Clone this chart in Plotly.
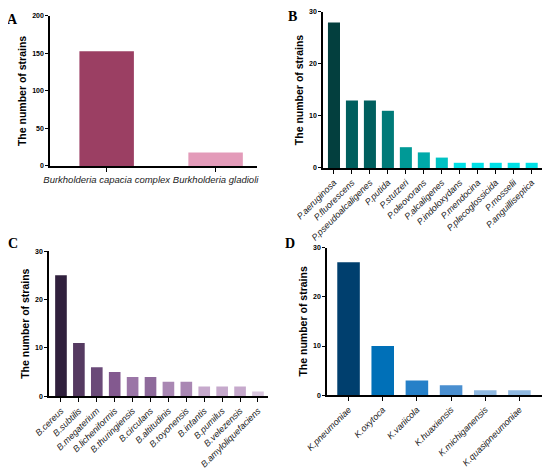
import plotly.graph_objects as go
from plotly.subplots import make_subplots

# panel A - Burkholderia
burk_names = ["Burkholderia capacia complex", "Burkholderia gladioli"]
burk_counts = [153, 18]
burk_colors = ["#9b3f63", "#e39bb9"]

# panel B - Pseudomonas
pseu_names = ["P.aeruginosa", "P.fluorescens", "P.pseudoalcaligenes", "P.putida",
              "P.stutzeri", "P.oleovorans", "P.alcaligenes", "P.indoloxydans",
              "P.mendocina", "P.plecoglossicida", "P.mosselii", "P.anguilliseptica"]
pseu_counts = [28, 13, 13, 11, 4, 3, 2, 1, 1, 1, 1, 1]
pseu_colors = ["#033f3e", "#005f5e", "#005f5e", "#007a78", "#009996", "#00aaaa",
               "#00c2c3", "#00e0e6", "#00e0e6", "#00e0e6", "#00e0e6", "#00e0e6"]

# panel C - Bacillus
baci_names = ["B.cereus", "B.subtilis", "B.megaterium", "B.licheniformis",
              "B.thuringiensis", "B.circulans", "B.altitudinis", "B.toyonensis",
              "B.infantis", "B.pumilus", "B.velezensis", "B.amyloliquefaciens"]
baci_counts = [25, 11, 6, 5, 4, 4, 3, 3, 2, 2, 2, 1]
baci_colors = ["#30203d", "#553a61", "#6a4a78", "#83598f", "#9b76a7", "#8e6a9b",
               "#a987b3", "#a987b3", "#c6a9cc", "#c6a9cc", "#c6a9cc", "#d9c6de"]

# panel D - Klebsiella
kleb_names = ["K.pneumoniae", "K.oxytoca", "K.variicola", "K.huaxiensis",
              "K.michiganensis", "K.quasipneumoniae"]
kleb_counts = [27, 10, 3, 2, 1, 1]
kleb_colors = ["#003f6e", "#0070b8", "#2680c8", "#4a8fd0", "#8fb8e0", "#8fb8e0"]

FONT = "Arial, Liberation Sans, sans-serif"

fig = make_subplots(rows=2, cols=2)

panels = [
    (1, 1, burk_names, burk_counts, burk_colors, 0.5),
    (1, 2, pseu_names, pseu_counts, pseu_colors, 0.67),
    (2, 1, baci_names, baci_counts, baci_colors, 0.65),
    (2, 2, kleb_names, kleb_counts, kleb_colors, 0.66),
]
for r, c, names, counts, colors, w in panels:
    fig.add_trace(go.Bar(x=names, y=counts, marker=dict(color=colors, line=dict(width=0)),
                         width=w, showlegend=False), row=r, col=c)

# the page body has an 8px margin, so the figure is 542x464
axes = [
    ("xaxis", "yaxis", [0.0775, 0.4594], [0.6595, 0.9828], [-0.52, 1.38], [0, 200], 50, burk_names, 0),
    ("xaxis2", "yaxis2", [0.5812, 0.9871], [0.6552, 0.9914], [-0.61, 11.63], [0, 30], 10, pseu_names, -45),
    ("xaxis3", "yaxis3", [0.0756, 0.4797], [0.1633, 0.4760], [-0.67, 11.56], [0, 30], 10, baci_names, -45),
    ("xaxis4", "yaxis4", [0.5886, 0.9871], [0.1655, 0.4836], [-0.63, 5.69], [0, 30], 10, kleb_names, -45),
]
for xa, ya, xd, yd, xr, yr, dt, names, ang in axes:
    fig.layout[xa].update(
        domain=xd, range=xr, showline=True, linecolor="black", linewidth=1.5,
        ticks="outside", ticklen=4, tickwidth=1.2, tickcolor="black", automargin=False,
        tickvals=names, ticktext=["<i>" + n + "</i>" for n in names],
        tickangle=ang, showgrid=False, zeroline=False,
        tickfont=dict(family=FONT, size=9.5 if ang == 0 else 9, color="#222"),
    )
    fig.layout[ya].update(
        domain=yd, range=yr, dtick=dt, showline=True, linecolor="black", linewidth=1.5,
        ticks="outside", ticklen=3, tickwidth=1.2, tickcolor="black", automargin=False,
        showgrid=False, zeroline=False,
        tickfont=dict(family=FONT, size=7, color="black", weight="bold"),
        title=dict(text="The number of strains", standoff=3,
                   font=dict(family=FONT, size=10.5, color="black", weight="bold")),
    )

# panel letters
for letter, x, y in [("A", 0.0092, 0.975), ("B", 0.524, 0.982), ("C", 0.0092, 0.4935), ("D", 0.520, 0.4935)]:
    fig.add_annotation(text="<b>" + letter + "</b>", x=x, y=y, xref="paper", yref="paper",
                       showarrow=False, xanchor="center", yanchor="middle",
                       font=dict(family="Liberation Serif, Times New Roman, serif", size=14, color="black"))

fig.update_layout(
    width=542, height=464, margin=dict(l=0, r=0, t=0, b=0),
    plot_bgcolor="white", paper_bgcolor="white", bargap=0.3,
)

fig.write_html("out.html")
